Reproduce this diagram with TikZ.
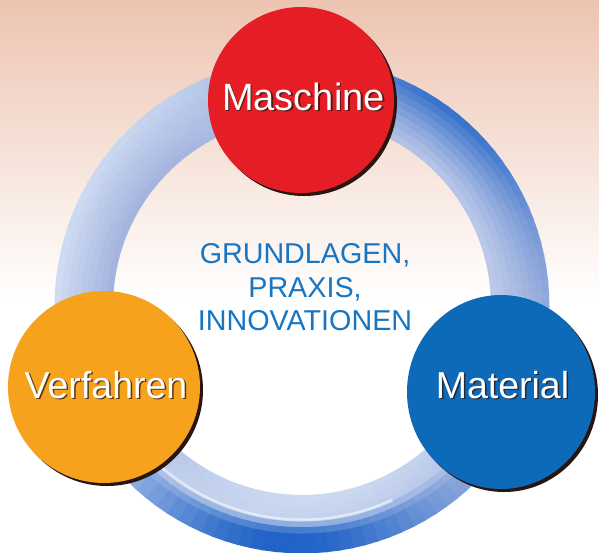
\documentclass[tikz,border=0pt]{standalone}
\usepackage{fontspec}
\setmainfont{Liberation Sans}
\usetikzlibrary{shapes.geometric}
\definecolor{bgtop}{HTML}{EDC4B1}
\definecolor{ringlav}{HTML}{A2B2DE}
\definecolor{ringpale}{HTML}{DCE9F8}
\definecolor{ringdark}{HTML}{1F62C6}
\definecolor{mred}{HTML}{E51E25}
\definecolor{morange}{HTML}{F6A21D}
\definecolor{mblue}{HTML}{0D6AB8}
\definecolor{rimdark}{HTML}{2A1410}
\definecolor{textblue}{HTML}{1776C4}
\tikzset{
  bubble/.style={circle, inner sep=0pt, minimum size=#1},
  lbl/.style={text=white, inner sep=0pt, anchor=base, font=\fontsize{#1}{#1}\selectfont},
  lblshadow/.style={text=rimdark, opacity=0.75, inner sep=0pt, anchor=base, font=\fontsize{#1}{#1}\selectfont},
  centertext/.style={text=textblue, inner sep=0pt, anchor=base, font=\fontsize{28.7}{28.7}\selectfont}
}
\begin{document}
\begin{tikzpicture}[x=1pt,y=-1pt]
\useasboundingbox (0,0) rectangle (599,552);
% background
\fill[white] (0,0) rectangle (599,552);
\shade[top color=bgtop, bottom color=white] (0,0) rectangle (599,300);
% ring
\begin{scope}[shift={(302,306)}]
\foreach \ringa in {0,3,...,357}{
  \pgfmathsetmacro\ringca{cos(\ringa)}
  \pgfmathsetmacro\ringbt{exp(-((mod(\ringa-305+540,360)-180)/38)^2)}
  \pgfmathsetmacro\ringbb{exp(-((mod(\ringa-92+540,360)-180)/40)^2)}
  \pgfmathsetmacro\ringbw{exp(-((mod(\ringa-95+540,360)-180)/50)^2)}
  \pgfmathsetmacro\ringWout{max(0,min(85,40-40*\ringca))}
  \pgfmathsetmacro\ringWin{max(0,min(85,20+25*\ringca+55*\ringbw))}
  \pgfmathsetmacro\ringb{\ringa+3.4}
  \foreach \ringk in {0,...,8}{
    \pgfmathsetmacro\ringt{(\ringk+0.5)/9}
    \pgfmathtruncatemacro\ringW{\ringWin+(\ringWout-\ringWin)*\ringt}
    \pgfmathtruncatemacro\ringD{min(100,88*\ringbt*\ringt^1.3+100*\ringbb*max(0,min(1,(\ringt-0.42)/0.25)))}
    \pgfmathtruncatemacro\ringL{100-\ringW}
    \pgfmathsetmacro\ringri{189+\ringk*6.444}
    \pgfmathsetmacro\ringro{\ringri+6.9}
    \colorlet{segbase}{ringlav!\ringL!ringpale}
    \fill[ringdark!\ringD!segbase] (\ringa:\ringri) -- (\ringa:\ringro) -- (\ringb:\ringro) -- (\ringb:\ringri) -- cycle;
  }
}
\draw[white, opacity=0.55, line width=3pt] (65:214) arc[start angle=65, end angle=135, radius=214];
\end{scope}
% Maschine
\node[bubble=186pt, fill=rimdark] (maschineshadow) at (304,103) {};
\node[bubble=186pt, fill=mred] (maschine) at (301,100) {};
\node[lblshadow=38] (maschineshd) at (305,111.5) {Maschine};
\node[lbl=38] (maschinetxt) at (303.5,110) {Maschine};
% Verfahren
\node[bubble=192pt, fill=rimdark] (verfahrenshadow) at (107,390) {};
\node[bubble=192pt, fill=morange] (verfahren) at (104,387) {};
\node[lblshadow=37.5] (verfahrenshd) at (107.5,399.5) {Verfahren};
\node[lbl=37.5] (verfahrentxt) at (106,398) {Verfahren};
% Material
\node[ellipse, inner sep=0pt, minimum width=188pt, minimum height=194pt, fill=rimdark] (materialshadow) at (504,395) {};
\node[ellipse, inner sep=0pt, minimum width=188pt, minimum height=194pt, fill=mblue] (material) at (501,392) {};
\node[lblshadow=37.5] (materialshd) at (504,399.5) {Material};
\node[lbl=37.5] (materialtxt) at (502.5,398) {Material};
% centre text
\node[centertext] (line1) at (305,263) {GRUNDLAGEN,};
\node[centertext] (line2) at (305,297) {PRAXIS,};
\node[centertext] (line3) at (305,330) {INNOVATIONEN};
\end{tikzpicture}
\end{document}
